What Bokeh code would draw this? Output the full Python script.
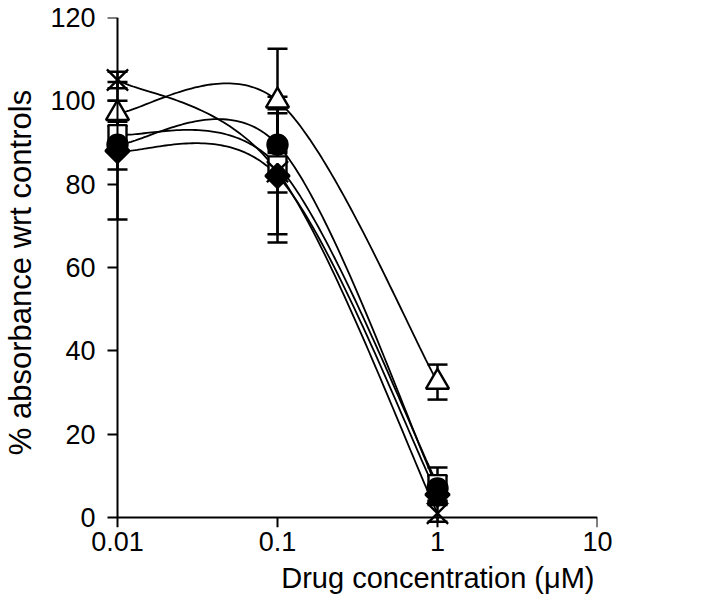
import numpy as np
from bokeh.plotting import figure
from bokeh.models import (ColumnDataSource, Whisker, TeeHead, FixedTicker, Range1d,
                          LinearAxis, LogAxis, Title)
from bokeh.embed import file_html
from bokeh.resources import INLINE

# ---- data ----
conc = [0.01, 0.1, 1]
diamond = [88, 82, 5.5]
square = [92, 84.5, 8]
triangle = [97, 100, 32.5]
cross = [105, 83, 1]
circle = [89.5, 89.5, 7]

diamond_err = [16.5, 16, 2]
square_err = [3, 16.5, 4]
triangle_err = [3, 12.5, 4.2]
cross_err = [2, 5, 2]
circle_err = [6, 7.5, 3]

x_ticks = [0.01, 0.1, 1, 10]
y_ticks = [0, 20, 40, 60, 80, 100, 120]

FONT = "Liberation Sans"

# frame padded a little left of 0.01 and below 0 so markers sitting on the axes are not clipped
x_lo = 10 ** (-2 - 14 / 160)
y_lo = -10 * 120 / 500

p = figure(x_axis_type="log", x_range=Range1d(x_lo, 10), y_range=Range1d(y_lo, 120),
           frame_width=494, frame_height=510,
           min_border_left=100, min_border_top=17, min_border_right=100, min_border_bottom=78,
           output_backend="svg", toolbar_location=None)
p.outline_line_color = None
p.xgrid.visible = False
p.ygrid.visible = False
p.background_fill_color = "white"


def smooth(xs, ys, n=60):
    u = np.log10(np.asarray(xs, dtype=float))
    v = np.asarray(ys, dtype=float)
    P = np.stack([u, v], axis=1)
    out = []
    m = len(P)
    for i in range(m - 1):
        p0 = P[i]
        p3 = P[i + 1]
        pm = P[i - 1] if i > 0 else P[i]
        pp = P[i + 2] if i + 2 < m else P[i + 1]
        c1 = p0 + (p3 - pm) / 6.0
        c2 = p3 - (pp - p0) / 6.0
        t = np.linspace(0, 1, n)[:, None]
        seg = ((1 - t) ** 3) * p0 + 3 * ((1 - t) ** 2) * t * c1 + 3 * (1 - t) * t ** 2 * c2 + t ** 3 * p3
        if i > 0:
            seg = seg[1:]
        out.append(seg)
    pts = np.concatenate(out)
    return 10 ** pts[:, 0], pts[:, 1]


# drawing order: open markers first, filled ones on top
series = [
    (triangle, triangle_err, "triangle", "white", 23, 0.0),
    (square, square_err, "square", "white", 18, 0.0),
    (cross, cross_err, "x", "black", 30, 0.0),
    (circle, circle_err, "circle", "black", 20, 0.0),
    (diamond, diamond_err, "square", "black", 17, np.pi / 4),
]

for ys, _, _, _, _, _ in series:
    sx, sy = smooth(conc, ys)
    p.line(sx, sy, line_color="black", line_width=1.8)

for ys, err, _, _, _, _ in series:
    src = ColumnDataSource(dict(x=conc, lo=[a - b for a, b in zip(ys, err)],
                                hi=[a + b for a, b in zip(ys, err)]))
    w = Whisker(source=src, base="x", lower="lo", upper="hi",
                line_color="black", line_width=2.5,
                upper_head=TeeHead(size=20, line_width=2.5, line_color="black"),
                lower_head=TeeHead(size=20, line_width=2.5, line_color="black"))
    p.add_layout(w)

for ys, _, marker, fill, size, ang in series:
    p.scatter(conc, ys, marker=marker, size=size, angle=ang, fill_color=fill,
              line_color="black", line_width=2.4)

# default axes: moved onto x=0.01 / y=0, they draw the axis lines and tick marks only
xa = p.xaxis[0]
ya = p.yaxis[0]
xa.ticker = FixedTicker(ticks=x_ticks)
xa.bounds = (0.01, 10)
xa.fixed_location = 0
ya.ticker = FixedTicker(ticks=y_ticks)
ya.bounds = (0, 120)
ya.fixed_location = 0.01
for ax in (xa, ya):
    ax.axis_line_width = 2
    ax.axis_line_color = "black"
    ax.major_tick_line_width = 2
    ax.major_tick_line_color = "black"
    ax.minor_tick_line_color = None
    ax.major_tick_in = 0
    ax.major_tick_out = 10
    ax.major_label_text_color = None
    ax.major_label_text_font_size = "1px"

# label axes in the side panels: tick labels and titles only
xl = LogAxis(ticker=FixedTicker(ticks=x_ticks),
             major_label_overrides={0.01: "0.01", 0.1: "0.1", 1: "1", 10: "10"})
yl = LinearAxis(ticker=FixedTicker(ticks=y_ticks), axis_label="% absorbance wrt controls")
for ax in (xl, yl):
    ax.axis_line_color = None
    ax.major_tick_line_color = None
    ax.minor_tick_line_color = None
    ax.major_tick_in = 0
    ax.major_tick_out = 0
    ax.major_label_text_font = FONT
    ax.major_label_text_font_size = "27px"
    ax.major_label_text_color = "black"
    ax.axis_label_text_font = FONT
    ax.axis_label_text_font_style = "normal"
    ax.axis_label_text_color = "black"
xl.major_label_standoff = 4
yl.major_label_standoff = 8
yl.axis_label_text_font_size = "31px"
yl.axis_label_standoff = 9
p.add_layout(xl, "below")
p.add_layout(yl, "left")

# x-axis title, right-aligned under the plot as in the reference
xt = Title(text="Drug concentration (\u03bcM)", align="right", offset=3, standoff=12,
           text_font=FONT, text_font_size="29px", text_font_style="normal",
           text_color="black")
p.add_layout(xt, "below")

open("out.html", "w").write(file_html(p, INLINE))
